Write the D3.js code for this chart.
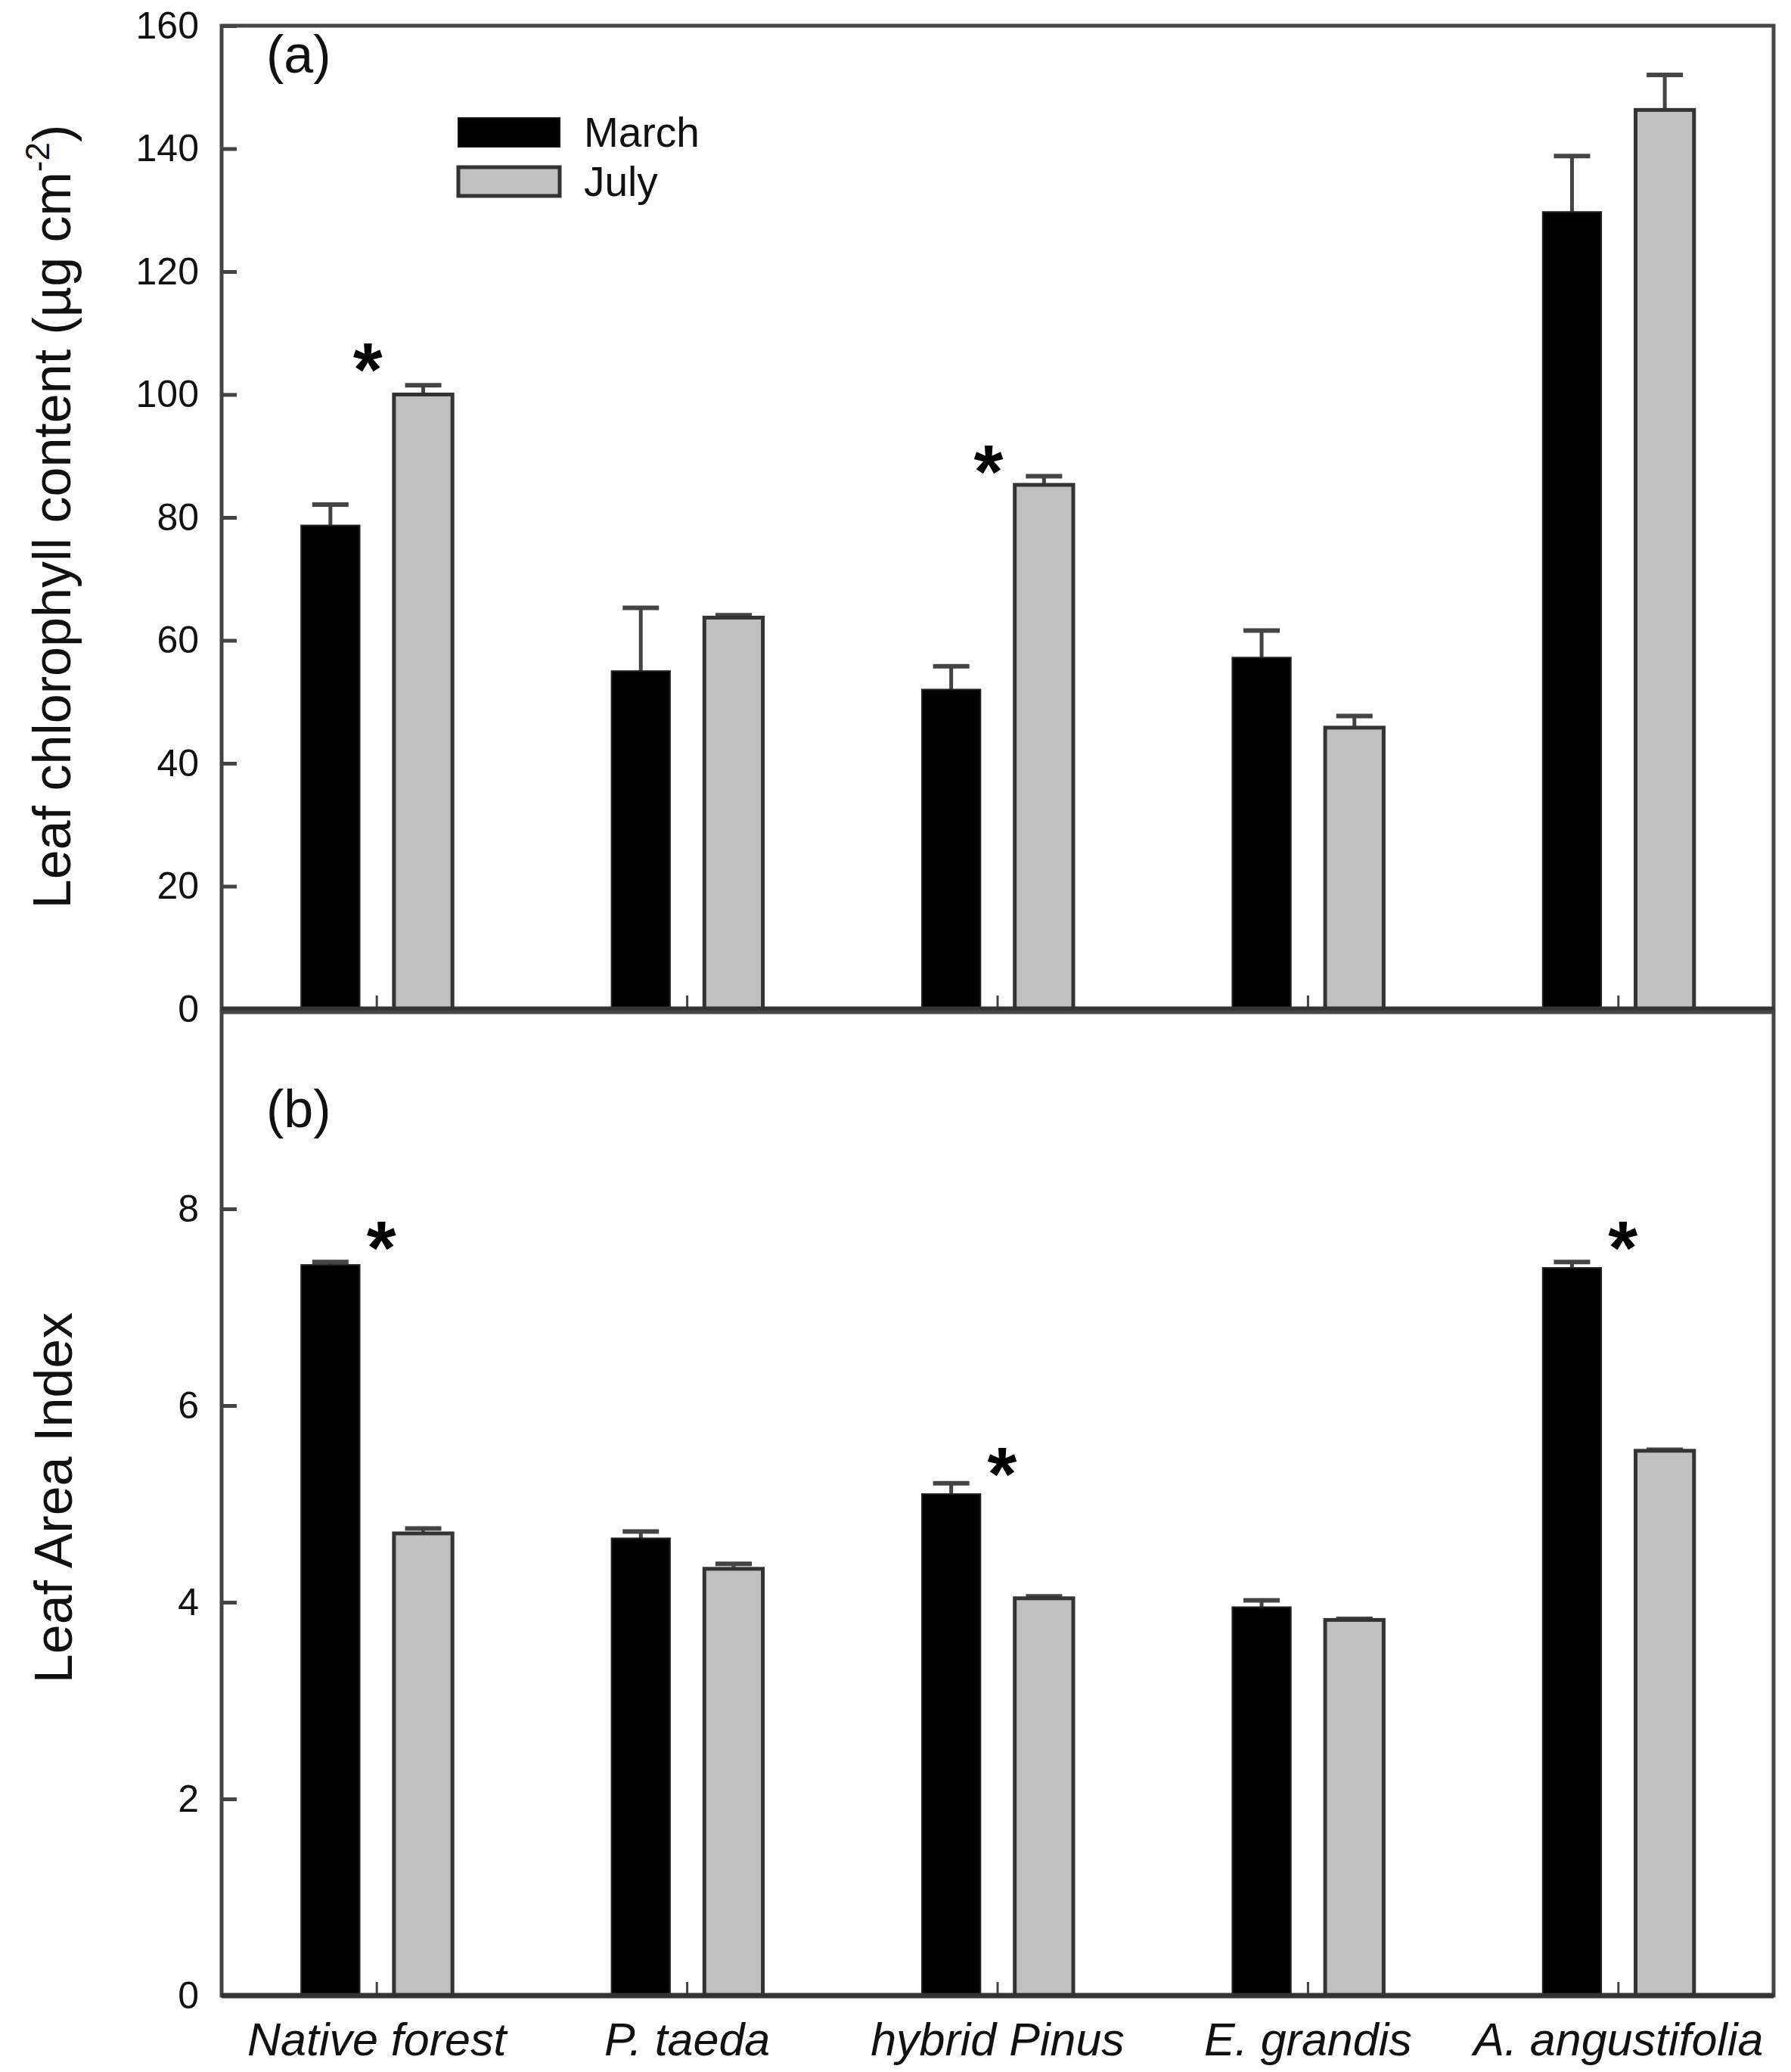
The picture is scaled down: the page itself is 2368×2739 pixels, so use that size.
<!DOCTYPE html>
<html><head><meta charset="utf-8">
<script src="https://cdn.jsdelivr.net/npm/d3@7"></script>
<style>body{margin:0;background:#fff}</style>
</head><body><svg id="chart" width="2368" height="2739"></svg>
<script>
const categories = ["Native forest","P. taeda","hybrid Pinus","E. grandis","A. angustifolia"];
const seasons = ["March","July"];
const chlMarch = [78.7,55.0,52.0,57.2,129.7];
const chlMarchErr = [3.4,10.3,3.8,4.4,9.1];
const chlJuly = [100.0,63.7,85.3,45.8,146.3];
const chlJulyErr = [1.5,0.4,1.4,1.9,5.7];
const laiMarch = [7.43,4.65,5.10,3.95,7.40];
const laiMarchErr = [0.03,0.07,0.11,0.07,0.06];
const laiJuly = [4.70,4.34,4.04,3.82,5.54];
const laiJulyErr = [0.05,0.05,0.02,0.01,0.01];
const chlTicks = [0,20,40,60,80,100,120,140,160];
const laiTicks = [0,2,4,6,8];
const chlStars = [{cat:"Native forest", value:106.8},{cat:"hybrid Pinus", value:90.2}];
const laiStars = [{cat:"Native forest", value:7.78},{cat:"hybrid Pinus", value:5.48},{cat:"A. angustifolia", value:7.78}];

const FONT = '"Liberation Sans", Arial, sans-serif';
const AX = "#444";
const fills = {March:"#000000", July:"#c0c0c0"};
const svg = d3.select("#chart");
const left = 293, right = 2345;

const x0 = d3.scaleBand().domain(categories).range([left, right]).padding(0);
const x1 = d3.scaleBand().domain(seasons).range([x0.bandwidth()/2 - 100, x0.bandwidth()/2 + 100]).paddingInner(0.37).paddingOuter(0);

const panels = [
  {top:34, bottom:1334, domain:[0,160], ticks:chlTicks, march:chlMarch, marchErr:chlMarchErr, july:chlJuly, julyErr:chlJulyErr,
   label:"(a)", labelY:96, stars:chlStars, starDx:-12, showX:false},
  {top:1338, bottom:2638, domain:[0,10], ticks:laiTicks, march:laiMarch, marchErr:laiMarchErr, july:laiJuly, julyErr:laiJulyErr,
   label:"(b)", labelY:1490, stars:laiStars, starDx:6, showX:true}
];

panels.forEach(p => {
  const y = d3.scaleLinear().domain(p.domain).range([p.bottom, p.top]);
  const g = svg.append("g");
  const rows = categories.map((c,i) => ({cat:c, values:[
    {s:"March", v:p.march[i], e:p.marchErr[i]},
    {s:"July", v:p.july[i], e:p.julyErr[i]}]}));

  const grp = g.selectAll("g.cat").data(rows).join("g").attr("class","cat")
    .attr("transform", d => `translate(${x0(d.cat)},0)`);
  grp.selectAll("line.err").data(d => d.values).join("line")
    .attr("x1", d => x1(d.s) + x1.bandwidth()/2).attr("x2", d => x1(d.s) + x1.bandwidth()/2)
    .attr("y1", d => y(d.v)).attr("y2", d => y(d.v + d.e))
    .attr("stroke", AX).attr("stroke-width", 5);
  grp.selectAll("line.cap").data(d => d.values).join("line").attr("class","cap")
    .attr("x1", d => x1(d.s) + x1.bandwidth()/2 - 24).attr("x2", d => x1(d.s) + x1.bandwidth()/2 + 24)
    .attr("y1", d => y(d.v + d.e)).attr("y2", d => y(d.v + d.e))
    .attr("stroke", AX).attr("stroke-width", 6);
  grp.selectAll("rect").data(d => d.values).join("rect")
    .attr("x", d => x1(d.s)).attr("width", x1.bandwidth())
    .attr("y", d => y(d.v)).attr("height", d => y(0) - y(d.v))
    .attr("fill", d => fills[d.s])
    .attr("stroke", d => d.s === "July" ? "#333" : "#222")
    .attr("stroke-width", d => d.s === "July" ? 5 : 2);

  const ya = g.append("g").attr("transform", `translate(${left},0)`)
    .call(d3.axisLeft(y).tickValues(p.ticks).tickSizeInner(-20).tickSizeOuter(0).tickPadding(30).tickFormat(d3.format("d")));
  ya.select(".domain").remove();
  ya.selectAll(".tick line").attr("stroke", AX).attr("stroke-width", 5);
  ya.selectAll(".tick text").attr("font-family", FONT).attr("font-size", 50).attr("fill", "#111");

  const xa = g.append("g").attr("transform", `translate(0,${p.bottom})`)
    .call(d3.axisBottom(x0).tickSizeInner(-18).tickSizeOuter(0).tickPadding(36));
  xa.select(".domain").remove();
  xa.selectAll(".tick line").attr("stroke", AX).attr("stroke-width", 3);
  if (p.showX) {
    xa.selectAll(".tick text").attr("font-family", FONT).attr("font-size", 61).attr("font-style","italic").attr("fill","#111");
  } else {
    xa.selectAll(".tick text").remove();
  }

  g.append("rect").attr("x", left).attr("y", p.top).attr("width", right-left).attr("height", p.bottom-p.top)
    .attr("fill","none").attr("stroke", AX).attr("stroke-width", 5);
  g.append("line").attr("x1", left).attr("x2", right).attr("y1", p.bottom).attr("y2", p.bottom)
    .attr("stroke", "#333").attr("stroke-width", 7);

  g.append("text").attr("x", 352).attr("y", p.labelY).text(p.label)
    .attr("font-family", FONT).attr("font-size", 70).attr("fill","#111");

  g.selectAll("text.star").data(p.stars).join("text").attr("class","star")
    .attr("x", d => x0(d.cat) + x0.bandwidth()/2 + p.starDx)
    .attr("y", d => y(d.value) + 57)
    .attr("text-anchor","middle").attr("font-family", FONT).attr("font-size", 100).attr("font-weight","bold")
    .text("*");
});

const legend = svg.append("g");
seasons.forEach((s,i) => {
  const yy = [156, 221][i];
  legend.append("rect").attr("x", 606).attr("y", yy).attr("width", 134).attr("height", 38)
    .attr("fill", fills[s]).attr("stroke", s === "July" ? "#333" : "#111").attr("stroke-width", s === "July" ? 5 : 2);
  legend.append("text").attr("x", 772).attr("y", yy + 38).text(s)
    .attr("font-family", FONT).attr("font-size", 55).attr("fill","#111");
});

const t1 = svg.append("text").attr("transform", "translate(93,683) rotate(-90)")
  .attr("text-anchor","middle").attr("font-family", FONT).attr("font-size", 70).attr("fill","#111");
t1.append("tspan").text("Leaf chlorophyll content (µg cm");
t1.append("tspan").attr("dy", -28).attr("font-size", 44).text("-2");
t1.append("tspan").attr("dy", 28).text(")");

svg.append("text").attr("transform", "translate(95,1980) rotate(-90)")
  .attr("text-anchor","middle").attr("font-family", FONT).attr("font-size", 70).attr("fill","#111")
  .text("Leaf Area Index");
</script>
</body></html>
